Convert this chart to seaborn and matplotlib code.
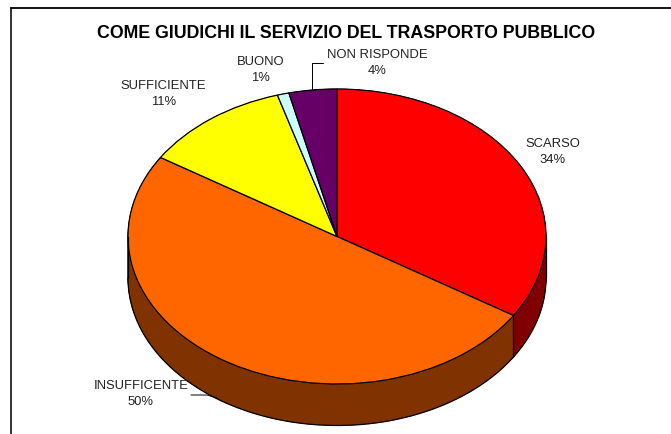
#!/usr/bin/env python3
"""Pie pseudo-3D: giudizio sul servizio del trasporto pubblico."""
import matplotlib
matplotlib.use("Agg")
import matplotlib.pyplot as plt
import numpy as np
import seaborn as sns

categories = ["SCARSO", "INSUFFICENTE", "SUFFICIENTE", "BUONO", "NON RISPONDE"]
shares = [34, 50, 11.4, 0.9, 3.7]
top_colors = ["#FF0000", "#FF6600", "#FFFF00", "#CCFFFF", "#660066"]
side_colors = ["#800000", "#803300", "#808000", "#668080", "#330033"]
title = "COME GIUDICHI IL SERVIZIO DEL TRASPORTO PUBBLICO"

W, H = 671, 435
CX, CY, RX, RY, DEPTH = 337, 237.5, 209, 147.5, 41.5

sns.set_theme(style="white")
plt.rcParams["font.family"] = ["Liberation Sans", "DejaVu Sans"]

fig = plt.figure(figsize=(W / 100, H / 100), dpi=100)

# pie axes: radius 1 fills the ellipse, the non-equal aspect gives the tilt
ax = fig.add_axes([(CX - RX) / W, 1 - (CY + RY) / H, 2 * RX / W, 2 * RY / H])
drop = DEPTH / RY
for d in np.linspace(drop, 0, 60):
    ax.pie(shares, colors=side_colors, startangle=90, counterclock=False,
           center=(0, -d), radius=1,
           wedgeprops=dict(linewidth=0.5, edgecolor=None))
    for w, c in zip(ax.patches[-len(shares):], side_colors):
        w.set_edgecolor(c)
# outline of the lower rim
t = np.linspace(np.pi, 2 * np.pi, 200)
ax.plot(np.cos(t), np.sin(t) - drop, color="black", lw=0.9)
ax.plot([-1, -1], [0, -drop], color="black", lw=0.9)
ax.plot([1, 1], [0, -drop], color="black", lw=0.9)
# vertical edge between the two front slices
ang = np.deg2rad(90 - shares[0] * 3.6)
ax.plot([np.cos(ang)] * 2, [np.sin(ang), np.sin(ang) - drop], color="black", lw=0.9)
ax.pie(shares, colors=top_colors, startangle=90, counterclock=False,
       wedgeprops=dict(linewidth=0.9, edgecolor="black"))
ax.set_aspect("auto")
ax.set_xlim(-1, 1)
ax.set_ylim(-1, 1)
ax.axis("off")
for art in ax.get_children():
    art.set_clip_on(False)

# overlay in pixel coordinates for title, labels, leaders and frame
ov = fig.add_axes([0, 0, 1, 1], facecolor="none")
ov.set_xlim(0, W)
ov.set_ylim(H, 0)
ov.axis("off")

ov.plot([11, 11], [9, H], color="#333333", lw=1.4, clip_on=False)
ov.plot([11, W], [9, 9], color="black", lw=1.3, clip_on=False)

ov.text(346, 33.5, title, ha="center", va="center", fontsize=12.8,
        fontweight="bold", color="black")

label_pos = [(553, 152), (141, 394), (163.5, 94), (260.5, 70), (377, 63)]
for name, share, (x, y) in zip(categories, shares, label_pos):
    ov.text(x, y, f"{name}\n{round(share)}%", ha="center", va="center",
            fontsize=9.4, color="#222222", linespacing=1.55)

ov.plot([311.5, 311.5, 323], [90, 64, 64], color="black", lw=0.7)
ov.plot([191, 207, 217], [396, 396, 399], color="black", lw=0.7)

fig.savefig("out.png", dpi=100)
